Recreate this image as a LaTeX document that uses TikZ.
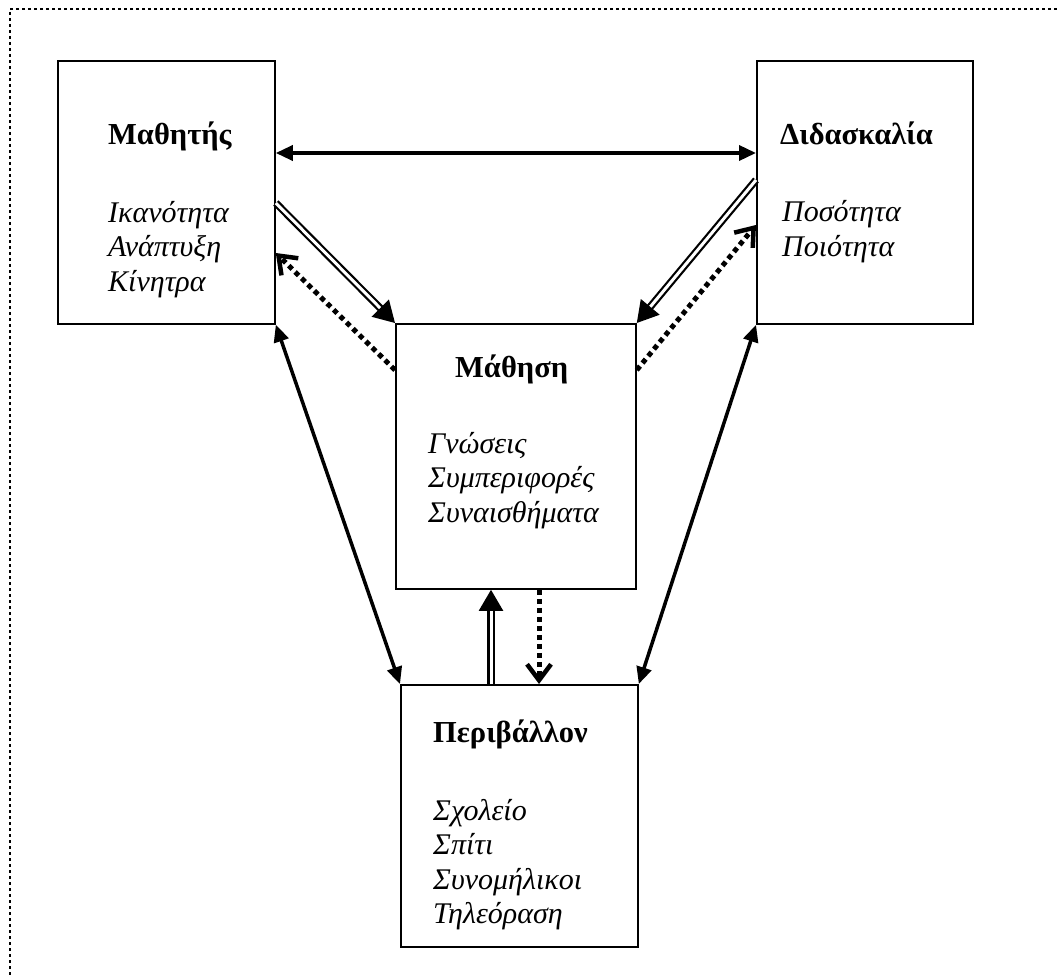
\documentclass[tikz,border=0pt]{standalone}
\usepackage{fontspec}
\setmainfont{Liberation Serif}
\usepackage{tikz}
\usetikzlibrary{positioning,arrows.meta,calc}
\tikzset{block/.style={draw,line width=1.8pt,inner sep=0pt},
  boxtitle/.style={anchor=base west,inner sep=0pt,font=\fontsize{30.5}{34.5}\selectfont\bfseries},
  boxitems/.style={anchor=base west,inner sep=0pt,align=left,font=\fontsize{30}{34.5}\selectfont\itshape},
  both/.style={{Triangle[length=17pt,width=15pt]}-{Triangle[length=17pt,width=15pt]},line width=3.5pt},
  dbl/.style={-{Triangle[length=21pt,width=24pt]},double,double distance=3pt,line width=2.2pt},
  back/.style={-{Straight Barb[length=16pt,width=24pt,line width=4.5pt]},line width=5pt,dash pattern=on 5pt off 4pt}}

\begin{document}
\begin{tikzpicture}[x=1pt,y=-1pt]
        \useasboundingbox (0,0) rectangle (1057,976);
        \draw[line width=2.8pt,dash pattern=on 2.8pt off 3.2pt] (1057,9) -- (10,9) -- (10,976);

        \node[block,minimum width=217pt,minimum height=263pt,anchor=north west] (mathitis) at (57,60) {};
        \node[block,minimum width=216pt,minimum height=263pt,anchor=north west] (didaskalia) at (756,60) {};
        \node[block,minimum width=240pt,minimum height=265pt,anchor=north west] (mathisi) at (395,323) {};
        \node[block,minimum width=237pt,minimum height=262pt,anchor=north west] (perivallon) at (400,684) {};

        % item lists sit on the baseline of their last line
        \node[boxtitle] (mathitis_t) at ($(mathitis.north west)+(51,85)$) {Μαθητής};
        \node[boxitems] (mathitis_i) at ($(mathitis.north west)+(51,231)$) {Ικανότητα\\Ανάπτυξη\\Κίνητρα};
        \node[boxtitle] (didaskalia_t) at ($(didaskalia.north west)+(24,85)$) {Διδασκαλία};
        \node[boxitems] (didaskalia_i) at ($(didaskalia.north west)+(26,196.5)$) {Ποσότητα\\Ποιότητα};
        \node[boxtitle] (mathisi_t) at ($(mathisi.north west)+(60,54)$) {Μάθηση};
        \node[boxitems] (mathisi_i) at ($(mathisi.north west)+(33,199)$) {Γνώσεις\\Συμπεριφορές\\Συναισθήματα};
        \node[boxtitle] (perivallon_t) at ($(perivallon.north west)+(33,58)$) {Περιβάλλον};
        \node[boxitems] (perivallon_i) at ($(perivallon.north west)+(33,239.5)$) {Σχολείο\\Σπίτι\\Συνομήλικοι\\Τηλεόραση};

        \coordinate (m_a) at ($(mathitis.north east)+(0,93)$);
        \coordinate (d_a) at ($(didaskalia.north west)+(0,93)$);
        \coordinate (m_b) at ($(mathitis.north east)+(0,143)$);
        \coordinate (m_c) at ($(mathitis.north east)+(0,193)$);
        \coordinate (d_b) at ($(didaskalia.north west)+(0,120)$);
        \coordinate (d_c) at ($(didaskalia.north west)+(0,165)$);
        \coordinate (l_c) at ($(mathisi.north west)+(0,47)$);
        \coordinate (r_c) at ($(mathisi.north east)+(0,47)$);
        \coordinate (up) at ($(perivallon.north west)+(91,0)$);
        \coordinate (down) at ($(mathisi.south west)+(144,0)$);

        \draw[both] (m_a) -- (d_a);
        \draw[both] (mathitis.south east) -- (perivallon.north west);
        \draw[both] (didaskalia.south west) -- (perivallon.north east);
        \draw[dbl] (m_b) -- (mathisi.north west);
        \draw[dbl] (d_b) -- (mathisi.north east);
        \draw[dbl] (up) -- (up |- mathisi.south);
        \draw[back] (l_c) -- (m_c);
        \draw[back] (r_c) -- (d_c);
        \draw[back] (down) -- (down |- perivallon.north);
    \end{tikzpicture}
\end{document}
